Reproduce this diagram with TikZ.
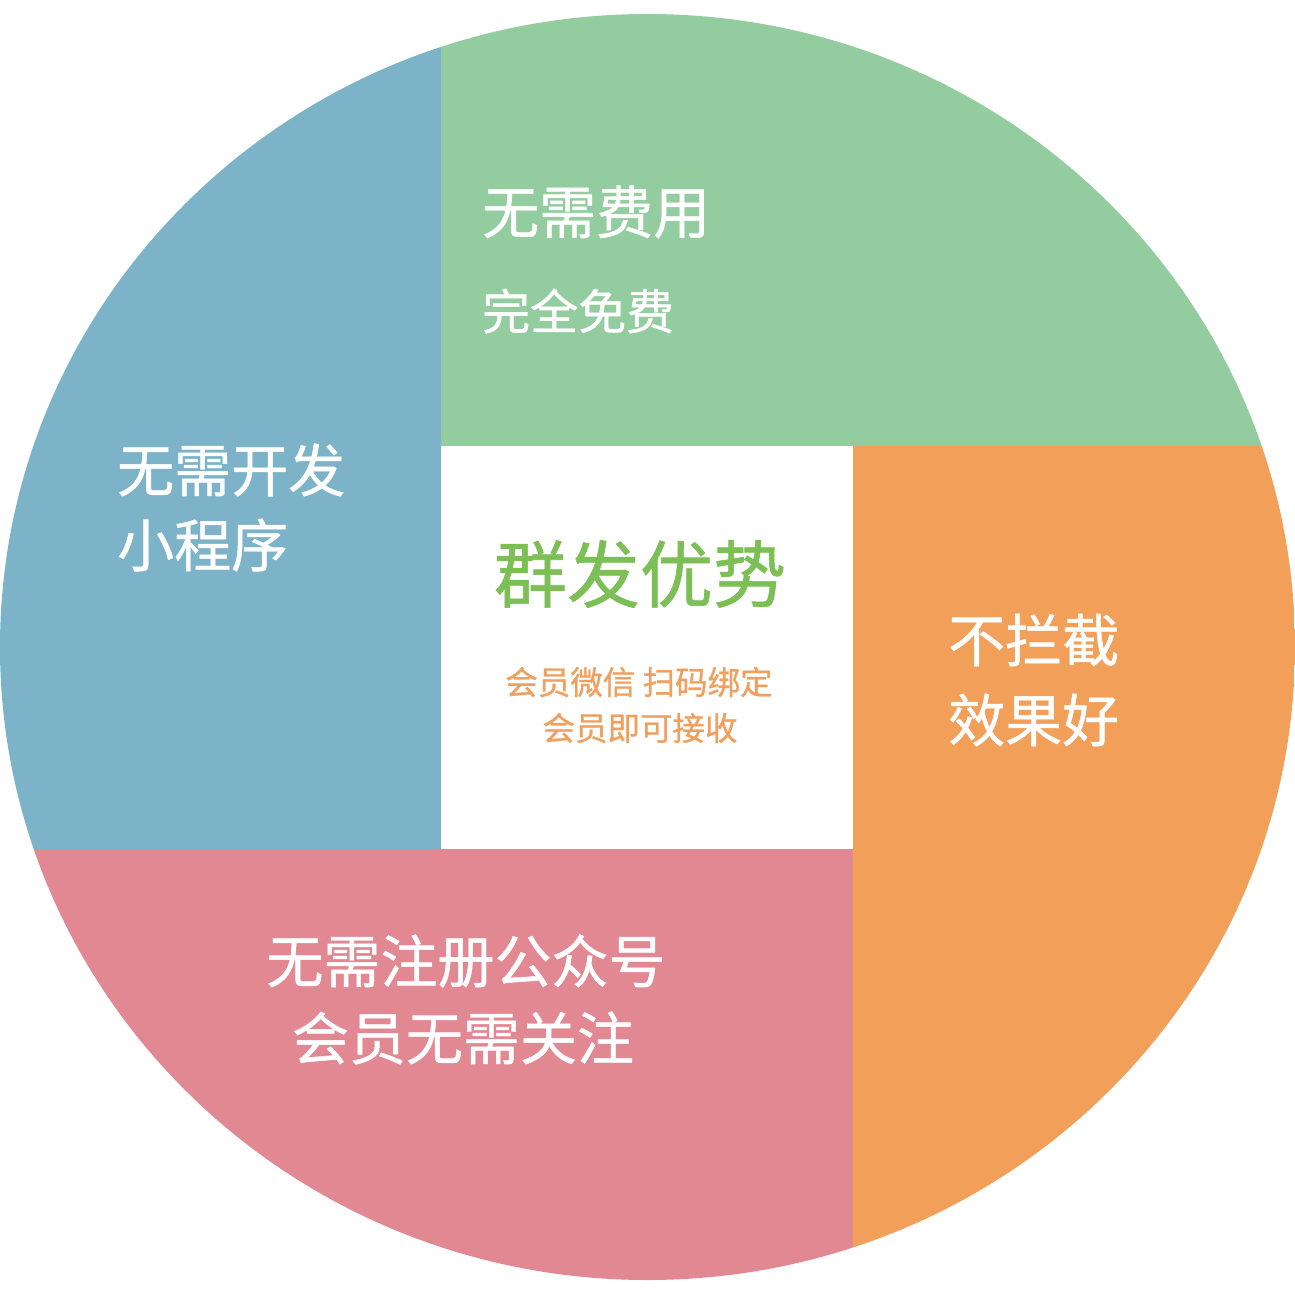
\documentclass[tikz,border=0pt]{standalone}
\usepackage{fontspec}
\setmainfont{Noto Sans CJK SC}
\newfontfamily\cjk[FakeBold=0.8]{Noto Sans CJK SC}
\definecolor{qblue}{HTML}{7DB3C8}
\definecolor{qgreen}{HTML}{93CC9E}
\definecolor{qorange}{HTML}{F29F5A}
\definecolor{qpink}{HTML}{E28893}
\definecolor{titlegreen}{HTML}{7BBF55}
\definecolor{suborange}{HTML}{F0A05E}
\begin{document}
\begin{tikzpicture}[x=1pt,y=-1pt,
  lbl/.style={text=white,inner sep=0pt,font=\cjk\fontsize{57}{60}\selectfont},
  lblsmall/.style={text=white,inner sep=0pt,font=\cjk\fontsize{48}{52}\selectfont},
  title/.style={text=titlegreen,inner sep=0pt,font=\cjk\fontsize{73}{78}\selectfont},
  sub/.style={text=suborange,inner sep=0pt,font=\cjk\fontsize{32.5}{35}\selectfont}]
\useasboundingbox (0,0) rectangle (1295,1295);
\begin{scope}
  \clip (647.5,647) ellipse [x radius=647.5pt, y radius=633pt];
  \fill[qblue] (0,0) rectangle (441,849);
  \fill[qgreen] (441,0) rectangle (1295,446);
  \fill[qorange] (853,446) rectangle (1295,1295);
  \fill[qpink] (0,849) rectangle (853,1295);
  \fill[white] (441,446) rectangle (853,849);
\end{scope}
% green
\node[lbl,anchor=west] (g1) at (482,212) {无需费用};
\node[lblsmall,anchor=west] (g2) at (482,311) {完全免费};
% blue
\node[lbl,anchor=west] (b1) at (117,470) {无需开发};
\node[lbl,anchor=west] (b2) at (117,545) {小程序};
% orange
\node[lbl,anchor=west] (o1) at (948,640) {不拦截};
\node[lbl,anchor=west] (o2) at (948,720) {效果好};
% pink
\node[lbl] (p1) at (466,961) {无需注册公众号};
\node[lbl] (p2) at (463,1038) {会员无需关注};
% center
\node[title] (t1) at (640,574) {群发优势};
\node[sub] (s1) at (639,682) {会员微信 扫码绑定};
\node[sub] (s2) at (640,728) {会员即可接收};
\end{tikzpicture}
\end{document}
